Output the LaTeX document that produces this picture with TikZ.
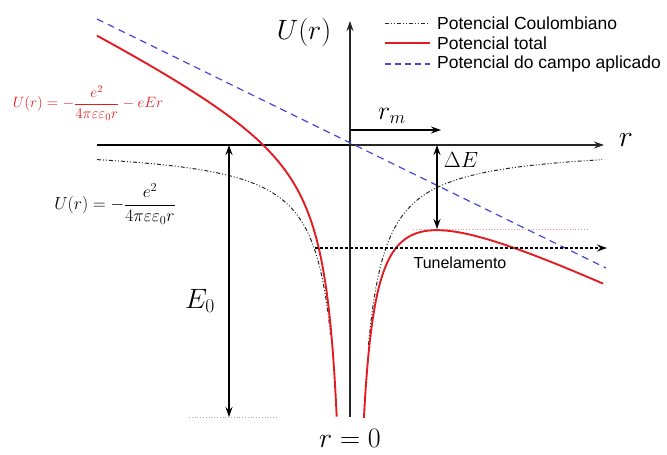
\RequirePackage{fix-cm}
\documentclass[tikz,border=0pt]{standalone}
\usepackage{amsmath}
\usepackage{fontspec}
\setsansfont{Liberation Sans}
\usetikzlibrary{arrows.meta}

\definecolor{totred}{RGB}{228,28,34}
\definecolor{fieldblue}{RGB}{70,70,215}
\definecolor{levelpink}{RGB}{225,150,160}

\tikzset{
  coul/.style={line width=1pt, black!85, dash pattern=on 4pt off 2pt on 1pt off 2pt on 1pt off 2pt},
  total/.style={line width=1.9pt, totred},
  field/.style={line width=1.2pt, fieldblue, dash pattern=on 7pt off 5pt},
  axisline/.style={line width=1.1pt, black!85, -{Stealth[length=10pt,width=7pt]}},
  oneway/.style={line width=1.1pt, -{Stealth[length=10pt,width=7pt]}},
  twoway/.style={line width=1.1pt, {Stealth[length=10pt,width=7pt]}-{Stealth[length=10pt,width=7pt]}},
  faint/.style={line width=0.8pt, dotted},
  legtext/.style={anchor=west, inner sep=0pt, font=\sffamily\fontsize{17.5}{20}\selectfont},
}

\begin{document}
\begin{tikzpicture}[x=1pt, y=-1pt]

  %% ════ coordinates ════
  \coordinate (axL) at (97,145);
  \coordinate (axR) at (604,145);
  \coordinate (axB) at (350,417);
  \coordinate (axT) at (350,21);
  \coordinate (eTop) at (229,145);
  \coordinate (eBot) at (229,417);
  \coordinate (dTop) at (437,145);
  \coordinate (dBot) at (437,229);
  \coordinate (rmA) at (350,130);
  \coordinate (rmB) at (441,130);
  \coordinate (tunA) at (315,248);
  \coordinate (tunB) at (607,248);
  \coordinate (fieldA) at (97,19);
  \coordinate (fieldB) at (606,268);

  %% ════ faint levels ════
  \draw[faint, black!35] (189,417) -- (276,417);
  \draw[faint, levelpink] (413,229) -- (587,229);

  %% ════ axes ════
  \draw[line width=1.1pt] (axL) -- (350,145);
  \draw[axisline] (350,145) -- (axR);
  \draw[axisline] (axB) -- (axT);

  %% ════ curves ════
  \draw[field] (fieldA) -- (fieldB);
  \draw[coul] plot[domain=97:330.5, samples=200] (\x,{145+3700/(350-\x)});
  \draw[coul] plot[domain=368.5:602, samples=200] (\x,{145+3700/(\x-350)});
  \draw[total] plot[domain=97:336.7, samples=300] (\x,{145+3700/(350-\x)+0.49*(\x-350)});
  \draw[total] plot[domain=363.9:603, samples=300] (\x,{145+3700/(\x-350)+0.49*(\x-350)});

  %% ════ arrows ════
  \draw[twoway] (eBot) -- (eTop);
  \draw[twoway] (dBot) -- (dTop);
  \draw[oneway] (rmA) -- (rmB);
  \draw[line width=1.1pt, densely dashed, -{Stealth[length=10pt,width=7pt]}] (tunA) -- (tunB);

  %% ════ labels ════
  \node (lblU) at (304,33) {\fontsize{28}{32}\selectfont$U(r)$};
  \node (lblr) at (626,140) {\fontsize{30}{34}\selectfont$r$};
  \node (lblrm) at (392,116) {\fontsize{26}{30}\selectfont$r_m$};
  \node (lbldE) at (461,160) {\fontsize{22}{26}\selectfont$\Delta E$};
  \node (lblE0) at (200,301) {\fontsize{28}{32}\selectfont$E_0$};
  \node (lblr0) at (350,438) {\fontsize{28}{32}\selectfont$r=0$};
  \node (lbltun) at (460,263) {\sffamily\fontsize{16}{19}\selectfont Tunelamento};
  \node[totred] (fmtot) at (88,103) {\fontsize{15}{18}\selectfont$U(r)=-\dfrac{e^2}{4\pi\varepsilon\varepsilon_0 r}-eEr$};
  \node (fmcoul) at (115,204) {\fontsize{17.5}{21}\selectfont$U(r)=-\dfrac{e^2}{4\pi\varepsilon\varepsilon_0 r}$};

  %% ════ legend ════
  \draw[coul] (385,23) -- (430,23);
  \draw[total] (385,43) -- (430,43);
  \draw[field, dash pattern=on 6pt off 4pt] (385,64) -- (430,64);
  \node[legtext] (legcoul) at (437,23) {Potencial Coulombiano};
  \node[legtext] (legtot) at (437,43) {Potencial total};
  \node[legtext] (legfield) at (437,64) {Potencial do campo aplicado};

  \pgfresetboundingbox
  \path[use as bounding box] (0,0) rectangle (667,455);
\end{tikzpicture}
\end{document}
